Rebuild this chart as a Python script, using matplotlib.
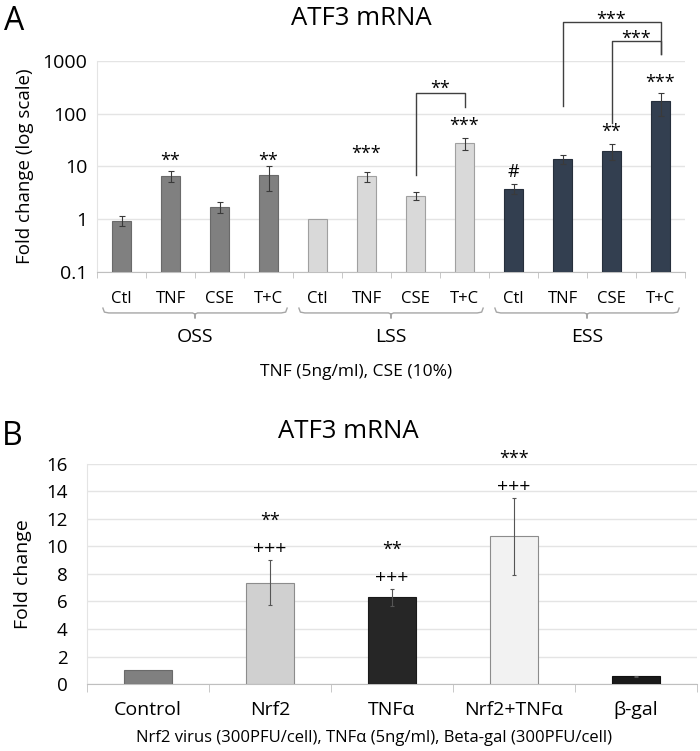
import matplotlib
matplotlib.use('Agg')
import matplotlib.pyplot as plt
import numpy as np

plt.rcParams['font.family'] = ['Open Sans', 'DejaVu Sans']

# panel A: ATF3 mRNA under shear stress (log scale)
groups = ['OSS', 'LSS', 'ESS']
treatments = ['Ctl', 'TNF', 'CSE', 'T+C']
a_vals = [0.94, 6.6, 1.73, 6.9,
          1.0, 6.5, 2.8, 27.6,
          3.8, 13.7, 20.0, 171.0]
a_err = [0.19, 1.6, 0.43, 3.4,
         0.0, 1.4, 0.45, 7.1,
         0.85, 2.6, 6.5, 80.0]
a_marks = ['', '**', '', '**',
           '', '***', '', '***',
           '#', '', '**', '***']
a_note = 'TNF (5ng/ml), CSE (10%)'

# panel B: Nrf2 / TNFa
b_labels = ['Control', 'Nrf2', 'TNFα', 'Nrf2+TNFα', 'β-gal']
b_vals = [1.0, 7.37, 6.3, 10.73, 0.55]
b_err = [0.0, 1.65, 0.62, 2.8, 0.05]
b_stars = ['', '**', '**', '***', '']
b_plus = ['', '+++', '+++', '+++', '']
b_note = 'Nrf2 virus (300PFU/cell), TNFα (5ng/ml), Beta-gal (300PFU/cell)'

# layout / style
group_colors = ['#808080', '#d9d9d9', '#333f50']
edge_colors = ['#6a6a6a', '#a0a0a0', '#262f3c']
b_colors = ['#808080', '#d0d0d0', '#262626', '#f2f2f2', '#1a1a1a']
b_edges = ['#6a6a6a', '#8c8c8c', '#1a1a1a', '#8c8c8c', '#101010']
mark_offsets = [0, 14, 0, 9, 0, 22, 0, 16, 16, 0, 16, 14]   # px above error bar
# brackets: (i, j, left bottom, top, right bottom, label y, label) in axes fraction
brackets = [(6, 7, 0.460, 0.848, 0.782, 0.90, '**'),
            (9, 11, 0.787, 1.185, 1.033, 1.223, '***'),
            (10, 11, 0.706, 1.095, 1.033, 1.133, '***')]
grid_col = '#e4e4e4'
axis_col = '#bfbfbf'

fig = plt.figure(figsize=(7, 7.51), dpi=100)

# ---------------- panel A ----------------
ax = fig.add_axes([0.1386, 0.6378, 0.84, 0.281])
n = len(a_vals)
x = np.arange(n)
cols = [group_colors[i // 4] for i in range(n)]
ecols = [edge_colors[i // 4] for i in range(n)]
ax.bar(x, a_vals, width=0.4, color=cols, edgecolor=ecols, linewidth=0.8, zorder=3)
has_err = [i for i in range(n) if a_err[i] > 0]
ax.errorbar([x[i] for i in has_err], [a_vals[i] for i in has_err],
            yerr=[a_err[i] for i in has_err], fmt='none', ecolor='#3a3a3a',
            elinewidth=0.8, capsize=2, capthick=0.8, zorder=4)
ax.set_yscale('log')
ax.set_ylim(0.1, 1000)
ax.set_xlim(-0.5, n - 0.5)
ax.set_yticks([0.1, 1, 10, 100, 1000])
ax.set_yticklabels(['0.1', '1', '10', '100', '1000'])
ax.yaxis.set_minor_locator(matplotlib.ticker.NullLocator())
ax.tick_params(axis='y', length=0, labelsize=14, pad=7)
ax.grid(axis='y', color=grid_col, linewidth=1, zorder=0)
ax.set_xticks(x)
ax.set_xticklabels(treatments * 3, fontsize=12)
ax.set_xticks(np.arange(-0.5, n, 1), minor=True)
ax.tick_params(axis='x', which='major', length=0, pad=14)
ax.tick_params(axis='x', which='minor', length=4.5, color=axis_col)
for s in ['top', 'right']:
    ax.spines[s].set_visible(False)
ax.spines['bottom'].set_color(axis_col)
ax.spines['left'].set_color(grid_col)
ax.set_ylabel('Fold change (log scale)', fontsize=13.5)
ax.yaxis.set_label_coords(-0.107, 0.5)

for i, m in enumerate(a_marks):
    if m:
        ax.annotate(m, xy=(i, a_vals[i] + a_err[i]), xytext=(0, mark_offsets[i] - 4),
                    textcoords='offset pixels', ha='center', va='center', fontsize=13)

tr = ax.get_xaxis_transform()
for i, j, lb, top, rb, ly, lab in brackets:
    ax.plot([i, i, j, j], [lb, top, top, rb], color='#404040', lw=1,
            transform=tr, clip_on=False)
    ax.text((i + j) / 2, ly - 0.03, lab, transform=tr, ha='center', va='center',
            fontsize=13)

# group braces under category labels
for g, name in enumerate(groups):
    x0 = g * 4 - 0.5 + 0.12
    x1 = g * 4 + 3.5 - 0.12
    xm = g * 4 + 1.5
    bx = [x0, x0 + 0.03, x0 + 0.12, xm - 0.05, xm, xm, xm, xm + 0.05, x1 - 0.12, x1 - 0.03, x1]
    by = [-0.171, -0.19, -0.194, -0.194, -0.2, -0.218, -0.2, -0.194, -0.194, -0.19, -0.171]
    ax.plot(bx, by, color='#a6a6a6', lw=1, transform=tr, clip_on=False)
    ax.text(xm, -0.31, name, transform=tr, ha='center', va='center', fontsize=14)

fig.text(0.508, 0.505, a_note, ha='center', va='center', fontsize=12.5)
fig.text(0.516, 0.976, 'ATF3 mRNA', ha='center', va='center', fontsize=18.5)
fig.text(0.02, 0.972, 'A', ha='center', va='center', fontsize=23)

# ---------------- panel B ----------------
bx_ = fig.add_axes([0.1243, 0.0892, 0.8714, 0.293])
xb = np.arange(len(b_vals))
bx_.bar(xb, b_vals, width=0.4, color=b_colors, edgecolor=b_edges, linewidth=0.8, zorder=3)
has_err_b = [i for i in range(len(b_vals)) if b_err[i] > 0]
bx_.errorbar([xb[i] for i in has_err_b], [b_vals[i] for i in has_err_b],
             yerr=[b_err[i] for i in has_err_b], fmt='none', ecolor='#555555',
             elinewidth=0.8, capsize=1.5, capthick=0.8, zorder=4)
bx_.set_ylim(0, 16)
bx_.set_xlim(-0.5, len(b_vals) - 0.5)
bx_.set_yticks(np.arange(0, 17, 2))
bx_.tick_params(axis='y', length=0, labelsize=13.5, pad=14)
bx_.grid(axis='y', color=grid_col, linewidth=1, zorder=0)
bx_.set_xticks(xb)
bx_.set_xticklabels(b_labels, fontsize=14)
bx_.set_xticks(np.arange(-0.5, len(b_vals), 1), minor=True)
bx_.tick_params(axis='x', which='major', length=0, pad=12)
bx_.tick_params(axis='x', which='minor', length=6, color=axis_col)
for s in ['top', 'right']:
    bx_.spines[s].set_visible(False)
bx_.spines['bottom'].set_color(axis_col)
bx_.spines['left'].set_color(grid_col)
bx_.set_ylabel('Fold change', fontsize=14)
bx_.yaxis.set_label_coords(-0.09, 0.5)

for i in range(len(b_vals)):
    top = b_vals[i] + b_err[i]
    if b_plus[i]:
        bx_.annotate(b_plus[i], xy=(i, top), xytext=(0, 11), textcoords='offset pixels',
                     ha='center', va='center', fontsize=14)
    if b_stars[i]:
        bx_.annotate(b_stars[i], xy=(i, top), xytext=(0, 39), textcoords='offset pixels',
                     ha='center', va='center', fontsize=13)

fig.text(0.534, 0.017, b_note, ha='center', va='center', fontsize=12)
fig.text(0.497, 0.425, 'ATF3 mRNA', ha='center', va='center', fontsize=18.5)
fig.text(0.018, 0.419, 'B', ha='center', va='center', fontsize=23)

fig.savefig('out.png', dpi=100)
